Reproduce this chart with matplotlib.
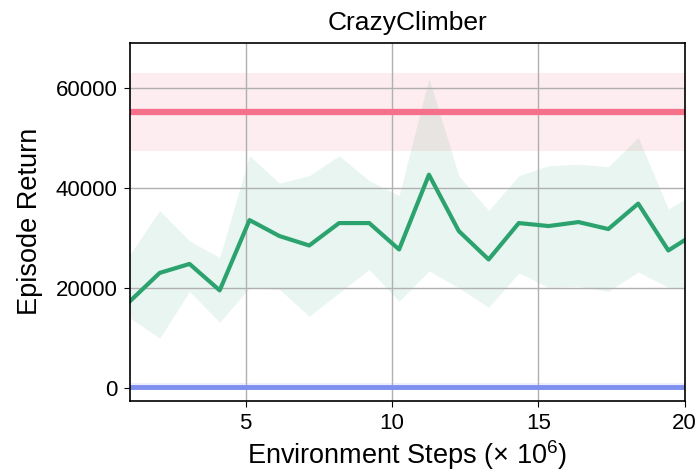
import numpy as np
import matplotlib
matplotlib.use("Agg")
import matplotlib.pyplot as plt

plt.rcParams['font.family'] = ['Liberation Sans', 'DejaVu Sans']
plt.rcParams['mathtext.fontset'] = 'custom'
plt.rcParams['mathtext.rm'] = 'Liberation Sans'

# environment steps (x 1e6)
steps = [1.04, 2.06, 3.08, 4.11, 5.13, 6.15, 7.17, 8.19, 9.22, 10.24,
         11.26, 12.28, 13.30, 14.33, 15.35, 16.37, 17.39, 18.41, 19.44, 20.46]

# agent mean return and band
agent_mean = [17300, 23000, 24800, 19500, 33600, 30400, 28500, 33000, 33000, 27700,
              42700, 31400, 25700, 33000, 32400, 33200, 31800, 36900, 27500, 31300]
agent_upper = [26700, 35500, 29400, 26100, 46500, 41000, 42500, 46500, 41500, 38500,
               62000, 42500, 35500, 42500, 44500, 44800, 44300, 50200, 35800, 39400]
agent_lower = [14000, 9900, 19300, 13100, 20000, 19700, 14300, 19000, 23700, 17300,
               23400, 20000, 16100, 23000, 20100, 20300, 19300, 23200, 20100, 20100]

# reference baselines (mean, low, high)
red_ref = (55250, 47500, 63100)
blue_ref = (150, -550, 850)

fig = plt.figure(figsize=(6.98, 4.76), dpi=100)
ax = fig.add_axes([0.186, 0.158, 0.795, 0.752])

x = np.array(steps)
ax.axhspan(red_ref[1], red_ref[2], color='#f7728c', alpha=0.13, lw=0)
ax.axhline(red_ref[0], color='#f5718b', lw=4.5)
ax.axhspan(blue_ref[1], blue_ref[2], color='#7f8ff0', alpha=0.15, lw=0)
ax.axhline(blue_ref[0], color='#7f8ff0', lw=3.5)

ax.fill_between(x, agent_lower, agent_upper, color='#2ca36f', alpha=0.1, lw=0)
ax.plot(x, agent_mean, color='#2ca36f', lw=3)

ax.set_xlim(1.04, 20)
ax.set_ylim(-2650, 69150)
ax.set_xticks([5, 10, 15, 20])
ax.set_yticks([0, 20000, 40000, 60000])
ax.grid(True, color='#b0b0b0', lw=1)
ax.tick_params(labelsize=16, length=4.3, pad=4.5)
for s in ax.spines.values():
    s.set_linewidth(1.2)

ax.set_title('CrazyClimber', fontsize=19, pad=9)
ax.set_xlabel('Environment Steps (\u00d7 10$^6$)', fontsize=19.5, labelpad=3)
ax.set_ylabel('Episode Return', fontsize=19.5, labelpad=9)

fig.savefig('out.png', dpi=100)
